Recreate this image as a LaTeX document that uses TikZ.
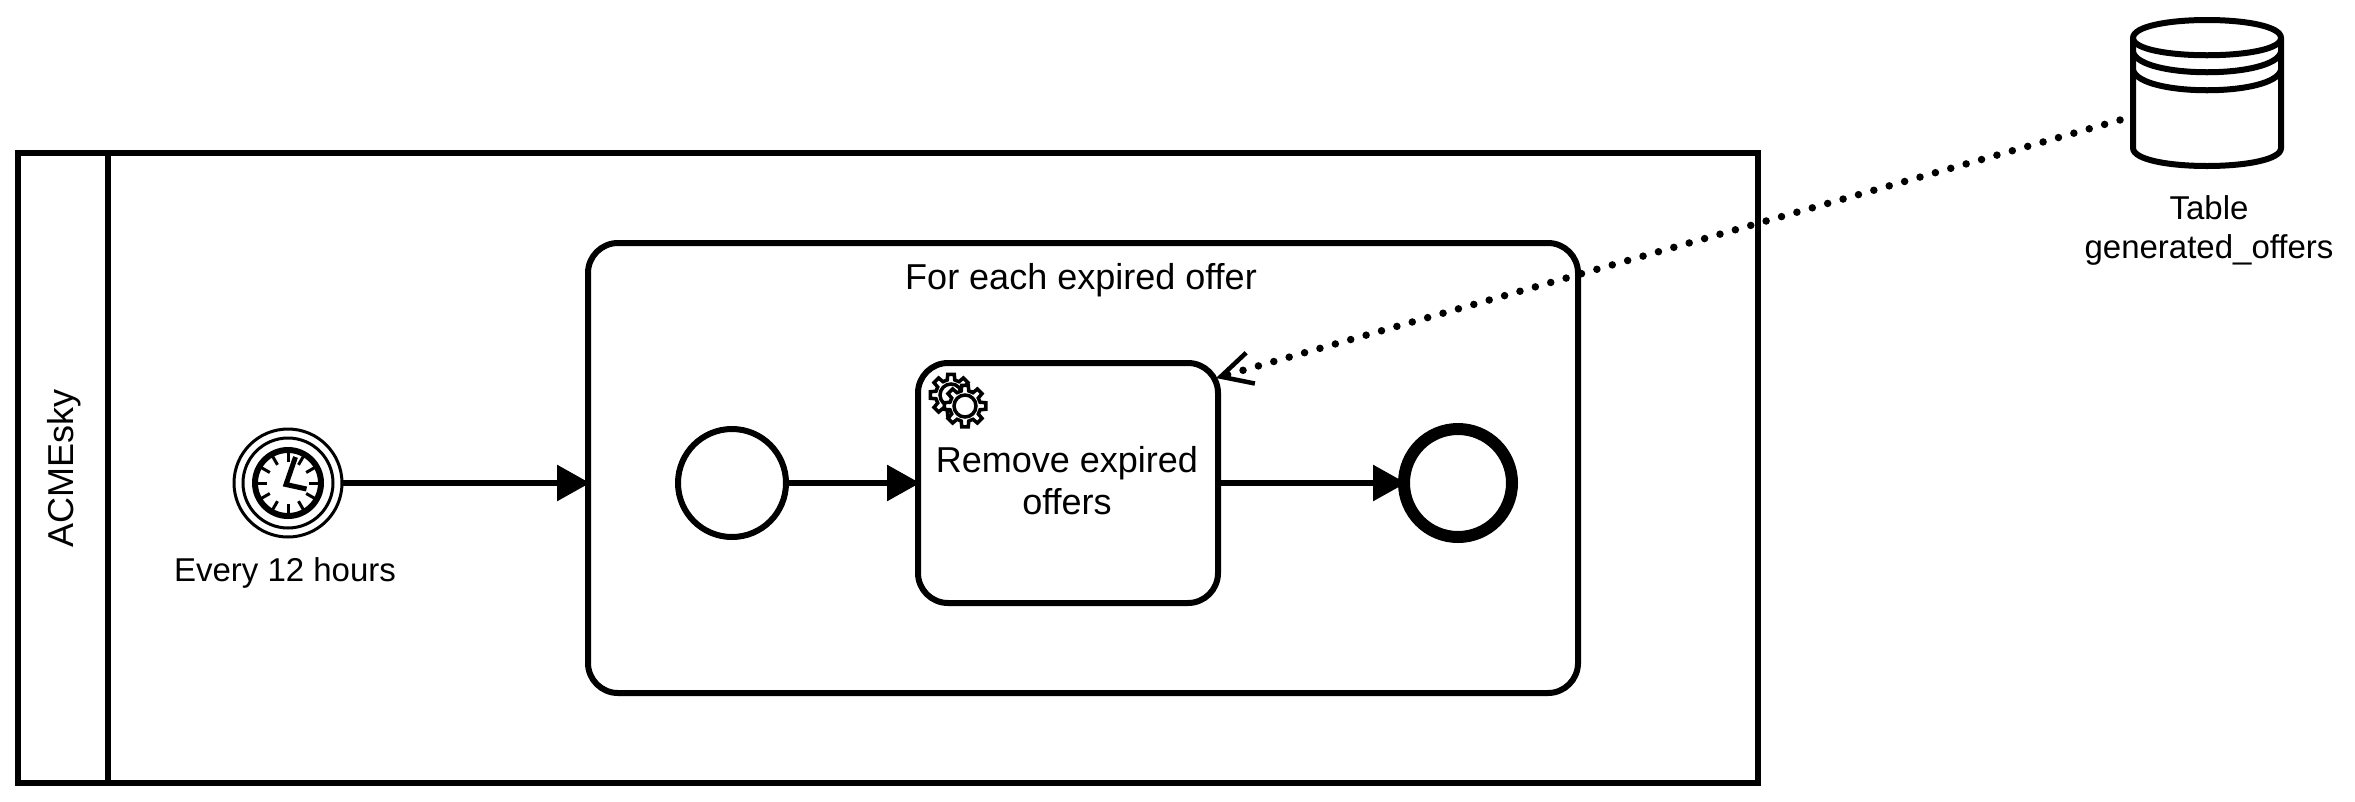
\documentclass[tikz,border=0pt]{standalone}
\usepackage{fontspec}
\setmainfont{Liberation Sans}
\usetikzlibrary{arrows.meta}
\tikzset{
  lbl/.style={align=center,inner sep=0pt,font=\fontsize{36}{42}\selectfont},
  smalllbl/.style={align=center,inner sep=0pt,font=\fontsize{33}{39}\selectfont},
  bx/.style={draw,line width=6pt,outer sep=0pt,inner sep=0pt,fill=white},
  evt/.style={draw,circle,line width=6pt,outer sep=0pt,inner sep=0pt,minimum size=108pt,fill=white},
  seq/.style={line width=6pt,shorten >=-2pt,-{Triangle[length=33pt,width=35pt]}},
  assoc/.style={line width=7.5pt,line cap=round,dash pattern=on 0pt off 16pt,
     -{Straight Barb[length=31pt,width=32pt,line width=4.5pt]}},
  thin3/.style={line width=3pt},
  gearline/.style={line width=3.5pt,line join=miter,fill=white},
}
\newcommand{\gearshape}[3]{% x,y,rot
  \draw[gearline,shift={(#1,#2)}] (#3-14:15.5pt)
    \foreach \i in {0,...,7}{ -- ({#3+\i*45-14}:15.5pt) -- ({#3+\i*45-9}:21pt) -- ({#3+\i*45+9}:21pt) -- ({#3+\i*45+14}:15.5pt)} -- cycle;
  \draw[line width=3.5pt,shift={(#1,#2)}] (0,0) circle (11pt);
}
\begin{document}
\begin{tikzpicture}[x=1pt,y=-1pt]
\useasboundingbox (0,0) rectangle (2355,801);
% pool
\node[bx,minimum width=1740pt,minimum height=630pt] (pool) at (888,468) {};
\node[bx,minimum width=90pt,minimum height=630pt] (lane) at (63,468) {};
\node[lbl,rotate=90] (lanetxt) at (64,468) {ACMEsky};
% subprocess
\node[bx,rounded corners=30pt,minimum width=990pt,minimum height=450pt] (sub) at (1083,468) {};
\node[lbl] (subtxt) at (1081,280) {For each expired offer};
% timer
\node[evt,line width=3pt] (timer) at (288,483) {};
\draw[thin3] (timer.center) circle (45pt);
\draw[line width=6pt] (timer.center) circle (33pt);
\foreach \a in {0,30,...,330}{
  \draw[thin3,shift={(timer.center)}] (\a:21pt) -- (\a:32pt);
}
\draw[line width=5pt,line cap=butt,line join=miter,miter limit=4] (295.5,457) -- (286,484.5) -- (306.5,489);
\node[smalllbl] (timertxt) at (285,573) {Every 12 hours};
% inner start
\node[evt] (start) at (732,483) {};
% task
\node[bx,rounded corners=30pt,minimum width=300pt,minimum height=240pt] (task) at (1068,483) {};
\gearshape{951}{395}{0}
\gearshape{965}{406}{0}
\node[lbl] (tasktxt) at (1067,481) {Remove expired\\offers};
% end
\node[evt,line width=12pt] (endev) at (1458,483) {};
% sequence flows
\draw[seq] (timer.east) -- (timer.east -| sub.west);
\draw[seq] (start.east) -- (start.east -| task.west);
\draw[seq] (task.east) -- (endev.west);
% data store
\node[inner sep=0pt,minimum width=148pt,minimum height=148pt] (db) at (2207,93) {};
\draw[line width=6pt,line join=round,fill=white]
  (2133,38) .. controls (2133,14) and (2281,14) .. (2281,38)
  -- (2281,148) .. controls (2281,172) and (2133,172) .. (2133,148) -- cycle;
\draw[line width=6pt] (2133,38) .. controls (2133,61) and (2281,61) .. (2281,38);
\draw[line width=6pt] (2133,52) .. controls (2140,79) and (2274,79) .. (2281,52);
\draw[line width=6pt] (2133,70) .. controls (2140,97) and (2274,97) .. (2281,70);
\node[smalllbl] (dbtxt) at (2209,230) {Table\\generated\_offers};
% association
\coordinate (assocS) at (2120,120);
\coordinate (assocE) at (1216,378);
\draw[assoc] (assocS) -- (assocE);
\end{tikzpicture}
\end{document}
